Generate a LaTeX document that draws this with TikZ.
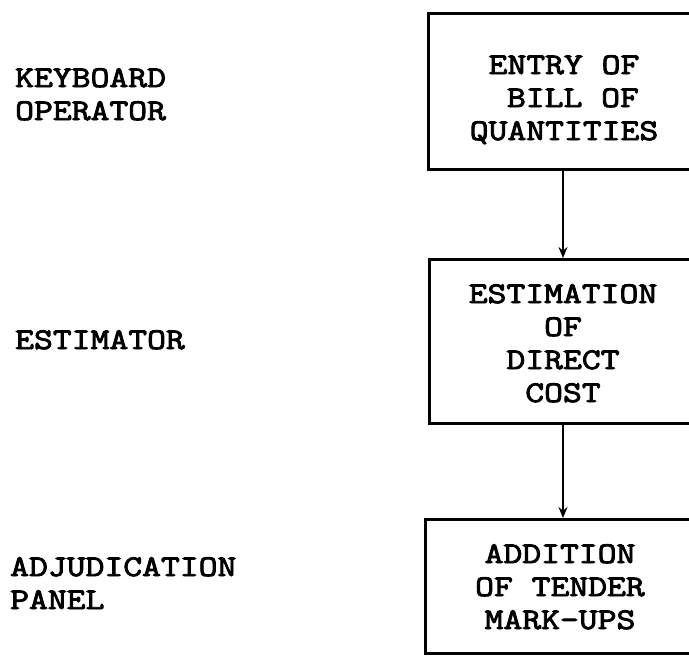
\documentclass[tikz,border=0pt]{standalone}
\usepackage{fontspec}
\newfontfamily\typewr[FakeStretch=1.22, FakeBold=3]{Latin Modern Mono}
\usetikzlibrary{arrows.meta}
\tikzset{
  x=1pt, y=-1pt,
  box/.style={draw=black, line width=3pt, inner sep=0pt, anchor=north west},
  txt/.style={font=\typewr\fontsize{30}{33}\selectfont, inner sep=0pt, align=center, anchor=base},
  lbl/.style={font=\typewr\fontsize{30}{33}\selectfont, inner sep=0pt, align=left, anchor=base west},
  flow/.style={line width=1.5pt, -{Stealth[length=11pt, width=9pt]}}
}
\begin{document}
\begin{tikzpicture}
\useasboundingbox (0,0) rectangle (689,656);
% boxes
\node[box, minimum width=300pt, minimum height=156pt] (b1) at (427,12) {};
\node[box, minimum width=300pt, minimum height=164pt] (b2) at (428,258) {};
\node[box, minimum width=300pt, minimum height=134pt] (b3) at (424,518) {};
% box texts (anchored at the baseline of the last line)
\node[txt] (t1) at (564,140) {ENTRY OF\\\hspace*{0.6em}BILL OF\\QUANTITIES};
\node[txt] (t2) at (563,402) {ESTIMATION\\OF\\DIRECT\\COST};
\node[txt] (t3) at (560,629) {ADDITION\\OF TENDER\\MARK-UPS};
% role labels
\node[lbl] (r1) at (15,120) {KEYBOARD\\OPERATOR};
\node[lbl] (r2) at (15,349) {ESTIMATOR};
\node[lbl] (r3) at (10,609) {ADJUDICATION\\PANEL};
% connectors
\coordinate (ax) at (563,0);
\draw[flow] (b1.south -| ax) -- (b2.north -| ax);
\draw[flow] (b2.south -| ax) -- (b3.north -| ax);
\end{tikzpicture}
\end{document}
